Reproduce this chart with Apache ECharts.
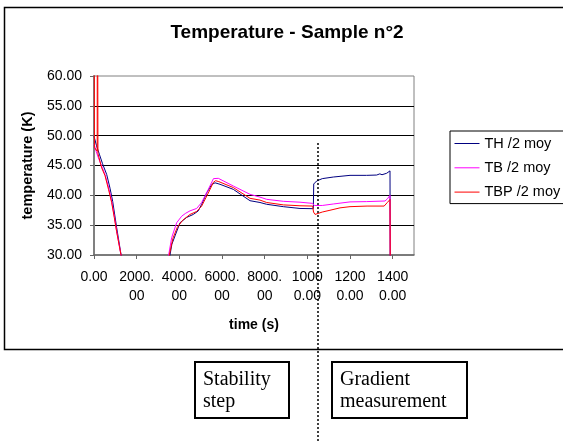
<!DOCTYPE html>
<html>
<head>
<meta charset="utf-8">
<script src="https://cdn.jsdelivr.net/npm/echarts@6/dist/echarts.min.js"></script>
<style>
html,body{margin:0;padding:0;background:#fff;}
#c{width:563px;height:442px;}
</style>
</head>
<body>
<div id="c"></div>
<script>
// ---- data ----
const seriesNames = ['TH /2 moy', 'TB /2 moy', 'TBP /2 moy'];
const xTickLabels = ['0.00', '2000.\n00', '4000.\n00', '6000.\n00', '8000.\n00', '1000\n0.00', '1200\n0.00', '1400\n0.00'];
const yTickValues = [30, 35, 40, 45, 50, 55, 60];
const phaseBoundary = 10500;          // time of the dotted separator
const phaseLabels = ['Stability\nstep', 'Gradient\nmeasurement'];

const thData = [
  [0, 49.9], [120, 48.3], [250, 46.9], [400, 45.3], [594, 43.5], [750, 41.2], [875, 39.0],
  [1062, 34.6], [1266, 30.1], [1320, 29.0], [2400, 20], [3500, 28.6], [3562, 30.0],
  [3650, 31.8], [3797, 33.2], [4031, 35.4], [4344, 36.3], [4656, 36.8], [4890, 37.4],
  [5047, 38.5], [5281, 40.4], [5515, 41.8], [5672, 42.1], [5906, 41.85], [6531, 41.0],
  [7312, 39.1], [7781, 38.8], [8094, 38.5], [8875, 38.1], [9656, 37.8], [10281, 37.76],
  [10300, 41.9], [10437, 42.4], [10700, 42.8], [11219, 43.07], [12000, 43.35], [12780, 43.35],
  [13250, 43.4], [13400, 43.6], [13500, 43.45], [13719, 43.7], [13875, 44.1], [13890, 20]
];
const tbData = [
  [0, 48.6], [100, 47.4], [203, 46.3], [360, 44.9], [516, 43.5], [680, 41.4], [828, 39.0],
  [950, 36.5], [1062, 34.0], [1266, 30.0], [1320, 29.0], [2400, 20], [3450, 28.8],
  [3500, 30.0], [3640, 32.9], [3875, 35.4], [4109, 36.5], [4300, 37.0], [4500, 37.4],
  [4812, 37.8], [5047, 38.8], [5359, 41.0], [5600, 42.8], [5672, 42.95], [5828, 42.85],
  [6531, 41.56], [7312, 40.17], [7781, 39.7], [8094, 39.33], [8875, 39.0], [9656, 38.85],
  [10250, 38.65], [10330, 38.3], [10400, 38.15], [10700, 38.3], [11219, 38.55], [12000, 38.9],
  [12780, 38.95], [13640, 39.05], [13750, 39.4], [13875, 40.0], [13895, 20]
];
const tbpData = [
  [0, 90], [20, 48.0], [150, 47.4], [160, 90], [185, 47.0], [360, 44.6], [516, 43.3],
  [680, 41.0], [828, 38.8], [950, 36.3], [1062, 33.9], [1266, 30.0], [1320, 29.0], [2400, 20],
  [3480, 28.8], [3530, 30.0], [3700, 32.8], [3900, 34.6], [4150, 35.8], [4500, 36.8],
  [4812, 37.3], [5047, 38.2], [5359, 40.4], [5600, 42.2], [5700, 42.45], [5850, 42.3],
  [6531, 41.3], [7312, 39.5], [7781, 39.2], [8094, 38.8], [8875, 38.4], [9656, 38.25],
  [10250, 38.2], [10290, 37.2], [10360, 36.8], [10700, 37.2], [11062, 37.5], [11531, 37.9],
  [12000, 38.1], [12800, 38.2], [13600, 38.2], [13750, 38.8], [13875, 39.3], [13895, 20]
];
const seriesColors = ['#000080', '#FF00FF', '#FF0000'];

// ---- chart ----
const FONT = '"Liberation Sans", Arial, sans-serif';
const SERIF = '"Liberation Serif", "Times New Roman", serif';
const chart = echarts.init(document.getElementById('c'), null, {renderer: 'canvas'});

chart.setOption({
  animation: false,
  backgroundColor: '#fff',
  title: {
    text: 'Temperature - Sample n°2',
    left: 287, textAlign: 'center', top: 23, padding: 0,
    textStyle: {fontFamily: FONT, fontSize: 19, fontWeight: 'bold', color: '#000'}
  },
  legend: {
    data: seriesNames,
    orient: 'vertical',
    left: 450, top: 131,
    padding: [5, 12, 4, 4],
    itemGap: 9.3, itemWidth: 25, itemHeight: 14,
    borderColor: '#000', borderWidth: 1,
    itemStyle: {opacity: 0},
    lineStyle: {width: 1},
    textStyle: {fontFamily: FONT, fontSize: 14.5, color: '#000'}
  },
  grid: {
    left: 94, top: 76, right: 149, bottom: 187,
    show: true, borderColor: '#808080', borderWidth: 1, containLabel: false
  },
  xAxis: {
    type: 'value', min: 0, max: 15000, interval: 2000,
    name: 'time (s)', nameLocation: 'middle', nameGap: 63,
    nameTextStyle: {fontFamily: FONT, fontSize: 14, fontWeight: 'bold', color: '#000'},
    axisLine: {lineStyle: {color: '#666', width: 1.5}},
    axisTick: {length: 4, lineStyle: {color: '#666'}},
    splitLine: {show: false},
    axisLabel: {
      fontFamily: FONT, fontSize: 14, lineHeight: 19, color: '#000', margin: 13,
      showMaxLabel: false,
      formatter: v => { const i = Math.round(v / 2000); return (v % 2000 === 0 && i < xTickLabels.length) ? xTickLabels[i] : ''; }
    }
  },
  yAxis: {
    type: 'value', min: yTickValues[0], max: yTickValues[yTickValues.length - 1], interval: 5,
    name: 'temperature (K)', nameLocation: 'middle', nameGap: 59,
    nameTextStyle: {fontFamily: FONT, fontSize: 14.5, fontWeight: 'bold', color: '#000'},
    axisLine: {show: true, lineStyle: {color: '#808080', width: 2}},
    axisTick: {show: true, length: 4, lineStyle: {color: '#666'}},
    splitLine: {show: true, showMaxLine: false, showMinLine: false, lineStyle: {color: '#000', width: 1}},
    axisLabel: {fontFamily: FONT, fontSize: 14, color: '#000', margin: 12, formatter: v => v.toFixed(2)}
  },
  series: [thData, tbData, tbpData].map((d, i) => ({
    name: seriesNames[i], type: 'line', data: d, symbol: 'none', clip: true,
    color: seriesColors[i], lineStyle: {color: seriesColors[i], width: 1}
  }))
});

const bx = chart.convertToPixel({xAxisIndex: 0}, phaseBoundary);
chart.setOption({
  graphic: [
    {type: 'rect', shape: {x: 4.5, y: 7.5, width: 600, height: 342}, style: {fill: null, stroke: '#000', lineWidth: 1.5}, z: 0, silent: true},
    {type: 'rect', shape: {x: 195, y: 362, width: 94, height: 56}, style: {fill: '#fff', stroke: '#000', lineWidth: 2}, z: 5},
    {type: 'text', x: 203, y: 369, style: {text: phaseLabels[0], font: '20px ' + SERIF, lineHeight: 22, fill: '#000', textVerticalAlign: 'top'}, z: 6},
    {type: 'rect', shape: {x: 332, y: 362, width: 135, height: 56}, style: {fill: '#fff', stroke: '#000', lineWidth: 2}, z: 5},
    {type: 'text', x: 340, y: 369, style: {text: phaseLabels[1], font: '20px ' + SERIF, lineHeight: 22, fill: '#000', textVerticalAlign: 'top'}, z: 6},
    {type: 'line', shape: {x1: bx, y1: 143, x2: bx, y2: 442}, style: {stroke: '#000', lineWidth: 1.5, lineDash: [2, 2]}, z: 10}
  ]
});
</script>
</body>
</html>
